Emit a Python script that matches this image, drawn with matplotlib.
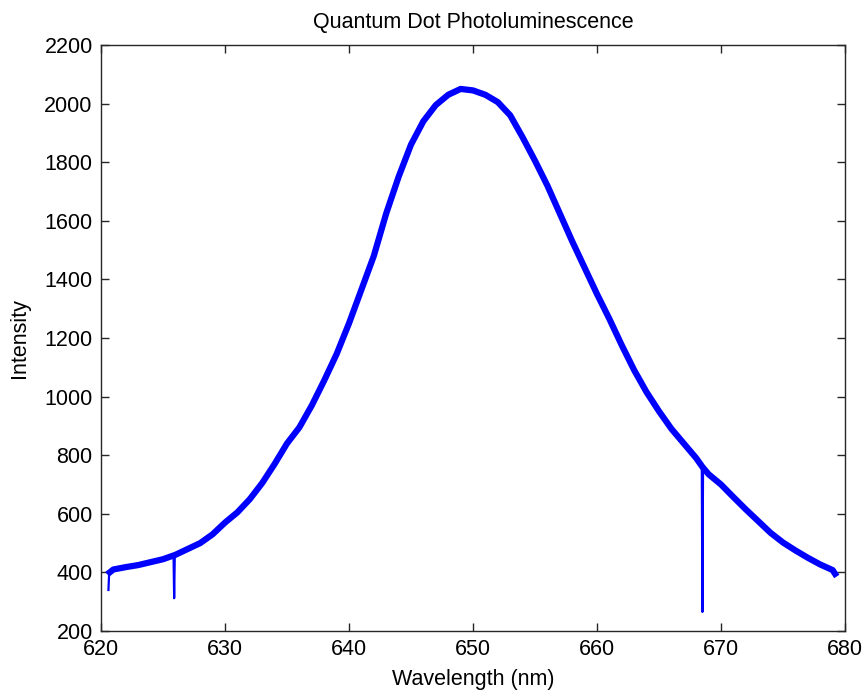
import matplotlib
matplotlib.use('Agg')
import matplotlib.pyplot as plt

# длина волны (нм) и интенсивность
wavelength = [620.7, 621, 622, 623, 624, 625, 626, 627, 628, 629,
              630, 631, 632, 633, 634, 635, 636, 637, 638, 639, 640, 641, 642, 643, 644,
              645, 646, 647, 648, 649, 650, 651, 652, 653, 654, 655, 656, 657, 658, 659,
              660, 661, 662, 663, 664, 665, 666, 667, 668, 668.5,
              669, 670, 671, 672, 673, 674, 675, 676, 677, 678, 679, 679.2]
intensity = [400, 410, 418, 425, 435, 445, 460, 480, 500, 530,
             570, 605, 650, 705, 770, 840, 895, 970, 1055, 1145, 1250, 1365, 1480, 1625, 1750,
             1860, 1940, 1995, 2030, 2050, 2045, 2030, 2005, 1960, 1885, 1805, 1720, 1625, 1530, 1440,
             1350, 1265, 1175, 1090, 1015, 950, 890, 840, 790, 760,
             735, 700, 657, 615, 575, 535, 502, 475, 450, 427, 408, 395]

# узкие провалы (выбросы детектора)
spike1_x = [620.6, 620.65, 620.7]
spike1_y = [340, 390, 400]
spike2_x = [625.85, 625.9, 625.95]
spike2_y = [455, 312, 458]
spike3_x = [668.45, 668.5, 668.55]
spike3_y = [770, 265, 750]

xticks = [620, 630, 640, 650, 660, 670, 680]
yticks = list(range(200, 2201, 200))

plt.rcParams['font.family'] = ['Liberation Sans', 'DejaVu Sans']
plt.rcParams['font.size'] = 15.5

fig = plt.figure(figsize=(8.64, 6.91), dpi=100)
ax = fig.add_axes([101 / 864, 60 / 691, 744 / 864, 586 / 691])
ax.plot(wavelength, intensity, color='#0000ff', lw=4.5, solid_joinstyle='round')
for sx, sy in [(spike1_x, spike1_y), (spike2_x, spike2_y), (spike3_x, spike3_y)]:
    ax.plot(sx, sy, color='#0000ff', lw=1.6)

ax.set_xlim(620, 680)
ax.set_ylim(200, 2200)
ax.set_xticks(xticks)
ax.set_yticks(yticks)
ax.tick_params(direction='in', top=True, right=True, length=6, width=1,
               colors='#262626', labelcolor='black')
ax.tick_params(axis='x', pad=6)
ax.tick_params(axis='y', pad=6)
for s in ax.spines.values():
    s.set_color('#262626')
    s.set_linewidth(1)

ax.set_title('Quantum Dot Photoluminescence', fontsize=15.5, pad=12)
ax.set_xlabel('Wavelength (nm)', labelpad=6)
ax.set_ylabel('Intensity', labelpad=10)

fig.savefig('out.png', dpi=100)
